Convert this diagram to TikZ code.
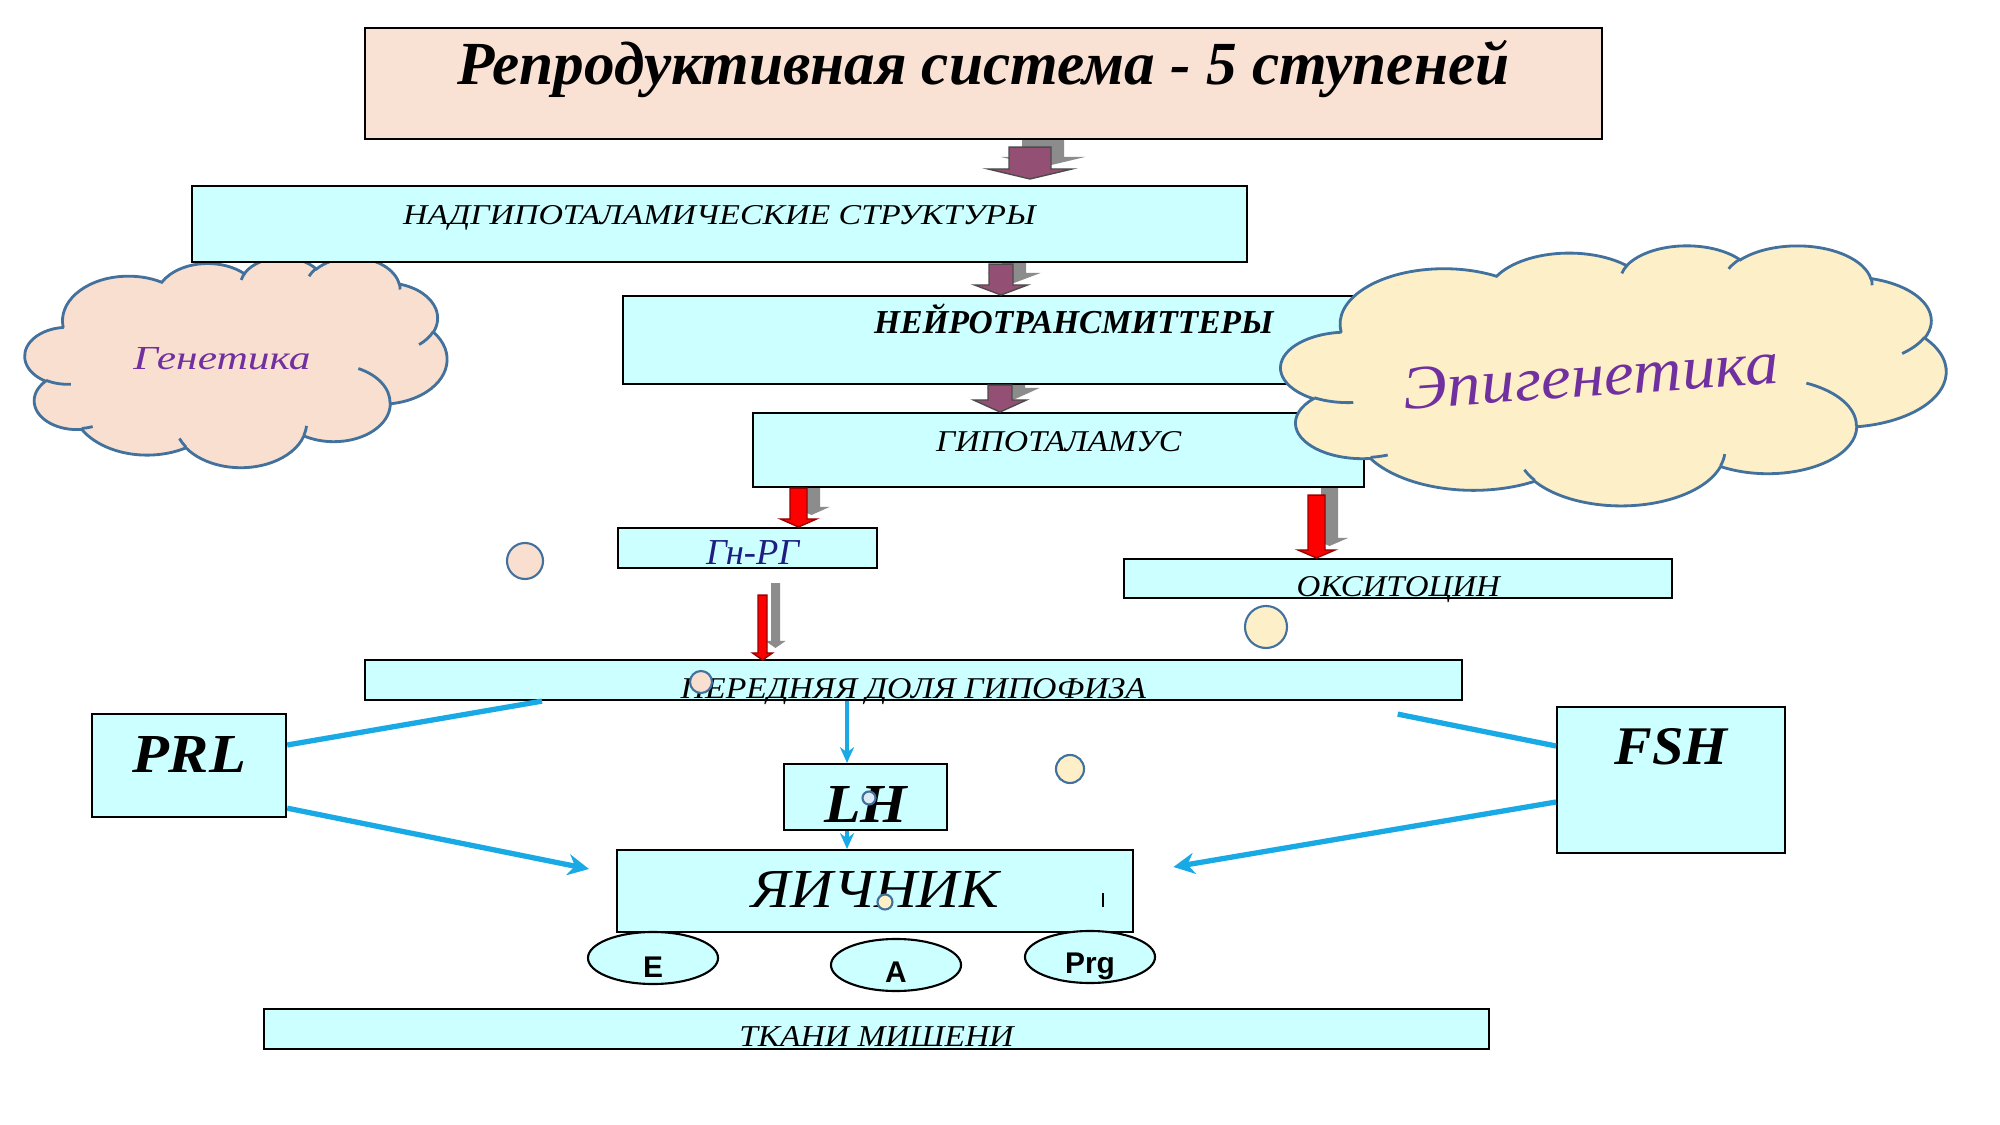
\documentclass[tikz,border=0pt]{standalone}
\usepackage{fontspec}
\setmainfont{Liberation Serif}
\newfontfamily\arialf{Liberation Sans}
\usetikzlibrary{calc,shapes.geometric,arrows.meta}
\pgfdeclarelayer{bg}\pgfsetlayers{bg,main}
\definecolor{titlefill}{HTML}{F9E2D4}
\definecolor{cyanbox}{HTML}{CCFFFF}
\definecolor{purplear}{RGB}{148,80,116}
\definecolor{shadowgr}{RGB}{140,140,140}
\definecolor{bluear}{RGB}{25,170,230}
\definecolor{cloudline}{HTML}{41719C}
\definecolor{genfill}{HTML}{F8DFD0}
\definecolor{epifill}{HTML}{FDEFC8}
\definecolor{purtext}{HTML}{7030A0}
\definecolor{navytext}{RGB}{30,30,130}
\definecolor{dotblue}{HTML}{DDEBF7}
\newcommand\fw[2]{\resizebox{#1cm}{!}{#2}}
\newcommand\fwh[3]{\resizebox{#1cm}{#2cm}{#3}}
% block arrow: #1 style, #2 top point, #3 tip, #4 shaft half, #5 head half, #6 head length
\newcommand\blockar[6]{%
  \draw[#1] ($(#2)+(-#4,0)$) -- ($(#2)+(#4,0)$) -- ($(#3)+(#4,-#6)$) -- ($(#3)+(#5,-#6)$)
    -- (#3) -- ($(#3)+(-#5,-#6)$) -- ($(#3)+(-#4,-#6)$) -- cycle;}
\newcommand\shadowar[5]{%
  \begin{pgfonlayer}{bg}\blockar{shadowst}{#1}{#2}{#3}{#4}{#5}\end{pgfonlayer}}
% elliptical arc given by visual start angle and sweep (y axis pointing down)
\newcommand\carc[4]{arc[x radius=#1, y radius=#2,
  start angle={atan2(sin(#3)*#1,cos(#3)*#2)},
  delta angle={Mod(atan2(sin(#3+#4)*#1,cos(#3+#4)*#2)-atan2(sin(#3)*#1,cos(#3)*#2),360)}]}
% cloud outline in a 4320 x 4320 frame
\newcommand\cloudpath{(390,1437)
  \carc{675.3}{919.0}{-190.487}{123.781}
  \carc{533.3}{726.7}{-144.102}{89.945}
  \carc{436.5}{594.5}{-145.808}{99.723}
  \carc{485.7}{659.5}{-130.986}{117.242}
  \carc{533.3}{727.3}{-78.709}{109.027}
  \carc{677.5}{922.0}{-46.267}{130.269}
  \carc{578.5}{786.7}{0.625}{114.033}
  \carc{675.2}{921.5}{22.452}{115.173}
  \carc{772.0}{1054.3}{66.243}{75.711}
  \carc{436.0}{591.8}{-274.942}{146.736}
  \carc{434.5}{594.5}{-246.829}{152.519} -- cycle}
\newcommand\cloudinner{%
  (469.3,2617.7) \carc{434.5}{594.5}{86.742}{26.430}
  (692.8,3489.9) \carc{436.0}{591.8}{73.610}{11.447}
  (1647.8,3909.0) \carc{675.2}{921.5}{137.624}{14.081}
  (2882.7,3475.1) \carc{675.2}{921.5}{6.453}{15.998}
  (3412.9,2295.4) \carc{578.5}{786.7}{-70.292}{70.917}
  (4179.8,1535.4) \carc{533.3}{727.3}{30.318}{27.752}
  (3832.4,542.6) \carc{485.7}{659.5}{-13.744}{14.859}
  (2907.8,395.2) \carc{485.7}{659.5}{-149.181}{18.195}
  (2214.1,472.0) \carc{436.5}{594.5}{-163.494}{17.686}}
\tikzset{
  cbox/.style={draw=black, line width=0.6pt, fill=cyanbox, inner sep=0pt, anchor=north west, font=\itshape},
  tbox/.style={cbox, fill=titlefill},
  ell/.style={ellipse, draw=black, line width=0.6pt, fill=cyanbox, minimum width=1.30cm, minimum height=0.52cm, inner sep=0pt, font={\arialf\bfseries\fontsize{8.5pt}{10pt}\selectfont}},
  cloudline st/.style={draw=cloudline, line width=0.8pt},
  cloudtext/.style={inner sep=0pt, text=purtext, font=\itshape},
  dot/.style={circle, draw=cloudline, line width=0.6pt, inner sep=0pt},
  purst/.style={fill=purplear, draw=black!70, line width=0.4pt},
  redst/.style={fill=red, draw=red!60!black, line width=0.4pt},
  shadowst/.style={fill=shadowgr, draw=none, transform canvas={shift={(13,-12)}}},
  bluel/.style={draw=bluear, line width=1.5pt},
  bluear/.style={bluel, -{Stealth[length=6pt,width=6pt]}},
  bluev/.style={draw=bluear, line width=1pt, -{Stealth[length=4.5pt,width=4pt]}},
}
\begin{document}
\begin{tikzpicture}[x=0.01cm,y=-0.01cm]
\useasboundingbox (0,0) rectangle (2000,1125);
\begin{pgfonlayer}{bg}
\fill[white] (0,0) rectangle (2000,1125);
\end{pgfonlayer}

% Genetics cloud (behind boxes)
\begin{scope}[shift={(25,257)}, xscale=422/4320, yscale=210/4320]
  \draw[cloudline st, fill=genfill] \cloudpath;
  \draw[cloudline st] \cloudinner;
\end{scope}
\node[cloudtext] (gen) at (222,359) {\fwh{1.77}{0.22}{Генетика}};

% boxes
\node[tbox, minimum width=12.36cm, text height=0.56cm, text depth=0.55cm] (title) at (364,27)
  {\fw{10.51}{\bfseries Репродуктивная система - 5 ступеней}};
\node[cbox, minimum width=10.54cm, text height=0.38cm, text depth=0.38cm] (nadg) at (191,185)
  {\fwh{6.32}{0.19}{НАДГИПОТАЛАМИЧЕСКИЕ СТРУКТУРЫ}};
\node[cbox, minimum width=7.68cm, text height=0.37cm, text depth=0.51cm] (neuro) at (622,295)
  {\hspace*{1.33cm}\fw{3.99}{\bfseries НЕЙРОТРАНСМИТТЕРЫ}};
\node[cbox, minimum width=6.11cm, text height=0.38cm, text depth=0.36cm] (gipot) at (752,412)
  {\fwh{2.45}{0.20}{ГИПОТАЛАМУС}};
\node[cbox, minimum width=2.59cm, text height=0.36cm, text depth=0.04cm] (gnrg) at (617,527)
  {\hspace*{0.10cm}\fw{0.93}{\color{navytext}Гн-РГ}};
\node[cbox, minimum width=5.48cm, text height=0.37cm, text depth=0.02cm] (oksi) at (1123,558)
  {\fwh{2.03}{0.20}{ОКСИТОЦИН}};
\node[cbox, minimum width=10.96cm, text height=0.38cm, text depth=0.02cm] (pered) at (364,659)
  {\fwh{4.65}{0.20}{ПЕРЕДНЯЯ ДОЛЯ ГИПОФИЗА}};
\node[cbox, minimum width=1.94cm, text height=0.58cm, text depth=0.45cm] (prl) at (91,713)
  {\fwh{1.14}{0.36}{\bfseries PRL}};
\node[cbox, minimum width=2.28cm, text height=0.57cm, text depth=0.89cm] (fsh) at (1556,706)
  {\fwh{1.13}{0.36}{\bfseries FSH}};
\node[cbox, minimum width=1.63cm, text height=0.58cm, text depth=0.08cm] (lh) at (783,763)
  {\fwh{0.83}{0.36}{\bfseries LH}};
\node[cbox, minimum width=5.16cm, text height=0.57cm, text depth=0.25cm] (yaich) at (616,849)
  {\fwh{2.48}{0.36}{ЯИЧНИК}};
\node[cbox, minimum width=12.24cm, text height=0.37cm, text depth=0.03cm] (tkani) at (263,1008)
  {\fwh{2.74}{0.20}{ТКАНИ МИШЕНИ}};

% hormone ellipses
\node[ell] (e) at (653,958) {\smash{\raisebox{-0.19cm}{E}}};
\node[ell] (a) at (896,965) {\smash{\raisebox{-0.17cm}{A}}};
\node[ell] (prg) at (1090,957) {\smash{\raisebox{-0.16cm}{Prg}}};

% arrow end points
\coordinate (a1t) at ($(title.south west)+(666,7)$);
\coordinate (a1h) at ($(nadg.north west)+(839,-6)$);
\coordinate (a2t) at ($(nadg.south west)+(810,1)$);
\coordinate (a2h) at ($(neuro.north west)+(379,0)$);
\coordinate (a3t) at ($(neuro.south west)+(378,0)$);
\coordinate (a3h) at ($(gipot.north west)+(248,0)$);
\coordinate (r1t) at ($(gipot.south west)+(46.5,0)$);
\coordinate (r1h) at ($(gnrg.north west)+(181.5,0)$);
\coordinate (r2t) at ($(gipot.south west)+(564.5,7)$);
\coordinate (r2h) at ($(oksi.north west)+(193.5,0)$);
\coordinate (r3t) at ($(gnrg.south west)+(145.5,26)$);
\coordinate (r3h) at ($(pered.north west)+(398.5,1)$);

% shadows
\shadowar{a1t}{a1h}{21}{42}{10}
\shadowar{a2t}{a2h}{12}{26.5}{10}
\shadowar{a3t}{a3h}{12}{26.5}{12}
\shadowar{r1t}{r1h}{8.5}{18}{8}
\shadowar{r2t}{r2h}{8.5}{18.5}{8}
\shadowar{r3t}{r3h}{4.5}{10}{7}

% block arrows
\blockar{purst}{a1t}{a1h}{21}{42}{10}
\blockar{purst}{a2t}{a2h}{12}{26.5}{10}
\blockar{purst}{a3t}{a3h}{12}{26.5}{12}
\blockar{redst}{r1t}{r1h}{8.5}{18}{8}
\blockar{redst}{r2t}{r2h}{8.5}{18.5}{8}
\blockar{redst}{r3t}{r3h}{4.5}{10}{7}

% Epigenetics cloud (over boxes)
\begin{scope}[shift={(1281,245)}, xscale=665/4320, yscale=260/4320]
  \draw[cloudline st, fill=epifill] \cloudpath;
  \draw[cloudline st] \cloudinner;
\end{scope}
\node[cloudtext] (epi) at (1591,376) {\rotatebox{4}{\fwh{3.76}{0.41}{Эпигенетика}}};

% blue connectors
\coordinate (bx) at (847,0);
\draw[bluev] (pered.south -| bx) -- (lh.north -| bx);
\draw[bluev] (lh.south -| bx) -- (yaich.north -| bx);
\draw[bluel] ($(pered.south west)+(178,0)$) -- ($(prl.north east)+(0,32)$);
\draw[bluear] ($(prl.south east)+(0,-10)$) -- ($(yaich.north west)+(-27,20)$);
\coordinate (fshA) at ($(pered.south east)+(-65,13)$);
\draw[bluel] (fshA) -- ($(fsh.north west)+(0,40)$);
\draw[bluear] ($(fsh.north west)+(0,96)$) -- ($(yaich.north east)+(39,18)$);

% small circles
\node[dot, fill=genfill, minimum size=0.36cm] (c1) at (525,561) {};
\node[dot, fill=epifill, minimum size=0.42cm] (c2) at (1266,627) {};
\node[dot, fill=genfill, minimum size=0.22cm] (c3) at (701,682) {};
\node[dot, fill=epifill, minimum size=0.28cm] (c4) at (1070,769) {};
\node[dot, fill=dotblue, minimum size=0.13cm] (c5) at (869,798) {};
\node[dot, fill=epifill, minimum size=0.15cm] (c6) at (885,902) {};

% tick mark inside the ovary box
\draw[line width=0.6pt] ($(yaich.north west)+(487,44)$) -- ++(0,14);
\end{tikzpicture}
\end{document}
